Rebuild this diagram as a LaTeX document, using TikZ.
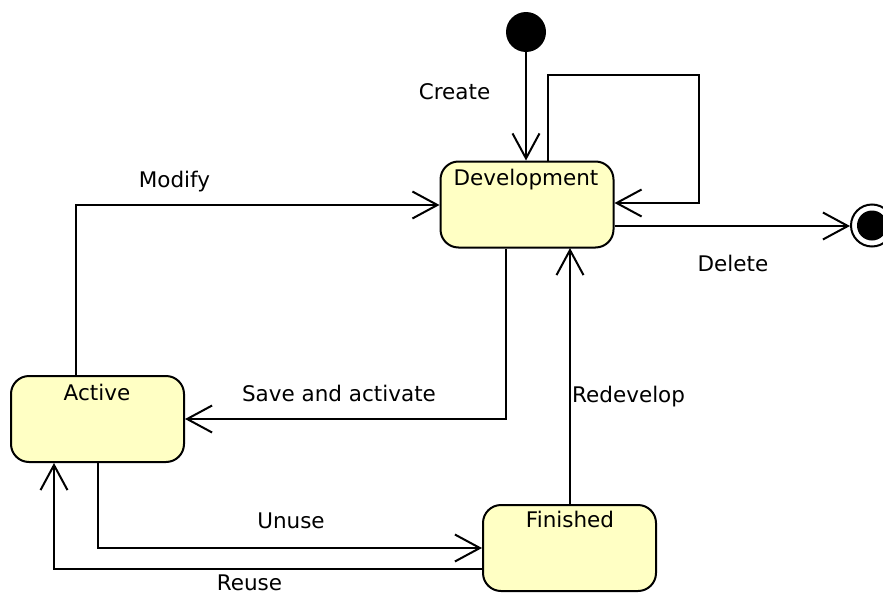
\documentclass[tikz,border=0pt]{standalone}
\usepackage{fontspec}
\setmainfont{DejaVu Sans}
\usetikzlibrary{arrows.meta,calc}
\definecolor{statefill}{RGB}{255,255,196}
\tikzset{
  statebox/.style={draw=black, line width=2pt, fill=statefill, rounded corners=18pt,
    minimum width=173pt, minimum height=86pt, inner sep=0pt},
  lbl/.style={anchor=base, inner sep=0pt, font=\fontsize{21.5}{24}\selectfont},
  trans/.style={line width=2pt, -{Straight Barb[length=25pt,width=27pt,line width=2pt]}},
}
\begin{document}
\begin{tikzpicture}[x=1pt,y=-1pt]
  \useasboundingbox (0,0) rectangle (883,597);
  \clip (0,0) rectangle (883,597);
  \fill[white] (0,0) rectangle (883,597);

  % states
  \node[statebox] (dev) at (527,204.5) {};
  \node[statebox] (act) at (97.5,419) {};
  \node[statebox] (fin) at (569.5,548) {};
  \node[lbl] (devtxt) at (526,185) {Development};
  \node[lbl] (acttxt) at (97,400) {Active};
  \node[lbl] (fintxt) at (570,527) {Finished};

  % initial and final pseudostates
  \node[circle, fill=black, minimum size=40pt, inner sep=0pt] (init) at (526,32) {};
  \node[circle, draw=black, line width=2pt, fill=white, minimum size=42pt, inner sep=0pt] (final) at (872,225.5) {};
  \fill[black] (final.center) circle (15pt);

  % Create
  \draw[trans] (init.south) -- (init.south |- dev.north);
  \node[lbl] (lcreate) at (454.5,99) {Create};

  % self loop on Development
  \coordinate (loopa) at (548,75);
  \coordinate (loopb) at (699,203);
  \draw[trans] (loopa |- dev.north) -- (loopa) -| (loopb) -- (loopb -| dev.east);

  % Delete
  \draw[trans] (dev.east |- 0,226) -- (final.west |- 0,226);
  \node[lbl] (ldelete) at (733,271) {Delete};

  % Modify
  \coordinate (modx) at (76,205);
  \draw[trans] (modx |- act.north) -- (modx) -- (modx -| dev.west);
  \node[lbl] (lmodify) at (174.5,187) {Modify};

  % Save and activate
  \coordinate (savex) at (506,419);
  \draw[trans] (savex |- dev.south) -- (savex) -- (act.east);
  \node[lbl] (lsave) at (339,401) {Save and activate};

  % Redevelop
  \draw[trans] (570,505) -- (570,248);
  \node[lbl, anchor=base west] (lredev) at (572,402) {Redevelop};

  % Unuse
  \draw[trans] (act.south) |- (fin.west);
  \node[lbl] (lunuse) at (291,528) {Unuse};

  % Reuse
  \coordinate (reusex) at (54,569);
  \draw[trans] (reusex -| fin.west) -- (reusex) -- (reusex |- act.south);
  \node[lbl] (lreuse) at (249.5,590) {Reuse};
\end{tikzpicture}
\end{document}
